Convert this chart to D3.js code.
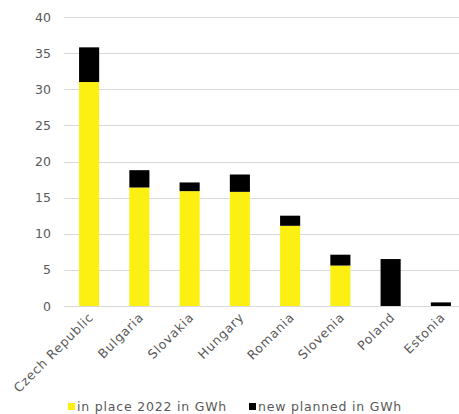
<!DOCTYPE html>
<html><head><meta charset="utf-8">
<script src="https://cdn.jsdelivr.net/npm/d3@7"></script>
<style>body{margin:0;background:#fff}svg{display:block}text{font-family:"DejaVu Sans",sans-serif;fill:#595959}</style>
</head><body><div id="chart"></div>
<script>
const categories = ["Czech Republic","Bulgaria","Slovakia","Hungary","Romania","Slovenia","Poland","Estonia"];
const inPlace2022 = [31.0, 16.4, 15.9, 15.8, 11.1, 5.6, 0, 0];
const newPlanned = [4.8, 2.4, 1.2, 2.4, 1.4, 1.5, 6.5, 0.5];
const yTicks = [0,5,10,15,20,25,30,35,40];
const seriesNames = ["in place 2022 in GWh","new planned in GWh"];
const colors = ["#FCF012","#000000"];

const W = 459, H = 414;
const svg = d3.select("#chart").append("svg").attr("width", W).attr("height", H);
const x = d3.scaleBand().domain(categories).range([64, 466]).paddingInner(0.6).paddingOuter(0.3);
const y = d3.scaleLinear().domain([0, 40]).range([306, 17]);

// gridlines
svg.append("g").selectAll("line").data(yTicks).join("line")
  .attr("x1", 64).attr("x2", 466)
  .attr("y1", d => Math.round(y(d)) + 0.5).attr("y2", d => Math.round(y(d)) + 0.5)
  .attr("stroke", "#d9d9d9").attr("stroke-width", 1);

// y axis labels
const yAxis = d3.axisLeft(y).tickValues(yTicks).tickSize(0).tickPadding(0);
const gy = svg.append("g").attr("transform", "translate(51,0)").call(yAxis);
gy.select(".domain").remove();
gy.selectAll("text").attr("font-size", 12.5).attr("fill", "#595959").style("font-family", '"DejaVu Sans",sans-serif');

const stackData = categories.map((c, i) => ({cat: c, a: inPlace2022[i], b: newPlanned[i]}));
const stack = d3.stack().keys(["a","b"])(stackData);
svg.append("g").selectAll("g").data(stack).join("g")
  .attr("fill", (d, i) => colors[i])
  .selectAll("rect").data(d => d).join("rect")
  .attr("x", d => x(d.data.cat))
  .attr("width", x.bandwidth())
  .attr("y", d => y(d[1]))
  .attr("height", d => y(d[0]) - y(d[1]));

// x labels
svg.append("g").selectAll("text").data(categories).join("text")
  .attr("transform", d => `translate(${x(d) + x.bandwidth()/2 + 5},${318}) rotate(-45)`)
  .attr("text-anchor", "end")
  .attr("font-size", 12.5)
  .attr("letter-spacing", "0.8px")
  .text(d => d);

// legend
const legX = [68, 249];
const lg = svg.append("g").selectAll("g").data(seriesNames).join("g")
  .attr("transform", (d, i) => `translate(${legX[i]},403)`);
lg.append("rect").attr("width", 7).attr("height", 7).attr("fill", (d, i) => colors[i]);
lg.append("text").attr("x", 9).attr("y", 8).attr("font-size", 12.5).attr("letter-spacing", "0.8px").text(d => d);
</script></body></html>
